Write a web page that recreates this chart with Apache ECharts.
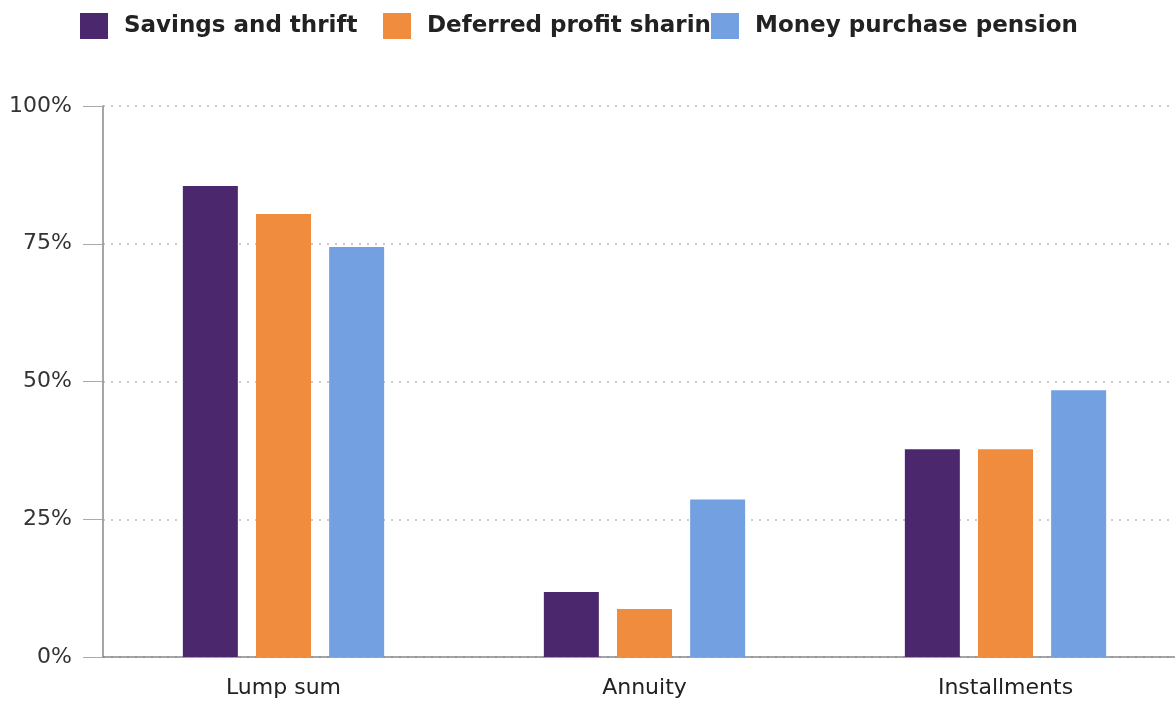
<!DOCTYPE html>
<html>
<head>
<meta charset="utf-8">
<script src="https://cdn.jsdelivr.net/npm/echarts@6/dist/echarts.min.js"></script>
<style>
html,body{margin:0;padding:0;background:#fff;}
#chart{width:1175px;height:704px;}
</style>
</head>
<body>
<div id="chart"></div>
<script>
const categories = ['Lump sum', 'Annuity', 'Installments'];
const seriesNames = ['Savings and thrift', 'Deferred profit sharing', 'Money purchase pension'];
const savingsThrift = [85.5, 11.8, 37.7];
const deferredProfit = [80.4, 8.7, 37.7];
const moneyPurchase = [74.4, 28.6, 48.4];
const yTicks = [0, 25, 50, 75, 100];

const colors = ['#4B286D', '#F08C3E', '#72A0E0'];
const seriesData = [savingsThrift, deferredProfit, moneyPurchase];
const legendLefts = [80, 383, 711];

const chart = echarts.init(document.getElementById('chart'));
chart.setOption({
  animation: false,
  color: colors,
  legend: seriesNames.map((n, i) => ({
    data: [{ name: n, icon: 'rect' }],
    left: legendLefts[i],
    top: 13,
    itemWidth: 28,
    itemHeight: 26,
    itemGap: 0,
    padding: 0,
    itemStyle: { borderWidth: 0 },
    textStyle: { fontFamily: 'DejaVu Sans', fontWeight: 'bold', fontSize: 23, color: '#222', padding: [0, 0, 0, 11] },
    z: 2 + i
  })),
  grid: { left: 103, top: 106, right: -11, bottom: 47, containLabel: false, outerBoundsMode: 'none' },
  xAxis: {
    type: 'category',
    data: categories,
    axisLine: { lineStyle: { color: '#888', width: 1.5 } },
    axisTick: { alignWithLabel: true, length: 15, lineStyle: { color: '#bbb' } },
    axisLabel: { fontFamily: 'DejaVu Sans', fontSize: 22, color: '#222', margin: 20 }
  },
  yAxis: {
    type: 'value',
    min: yTicks[0],
    max: yTicks[yTicks.length - 1],
    interval: 25,
    axisLine: { show: true, lineStyle: { color: '#888', width: 1.5 } },
    axisTick: { show: true, length: 20, lineStyle: { color: '#aaa' } },
    axisLabel: { fontFamily: 'DejaVu Sans', fontSize: 22, color: '#333', margin: 31, formatter: '{value}%' },
    splitLine: { show: true, lineStyle: { color: '#bbb', type: [2, 6], width: 1.5 } }
  },
  series: seriesNames.map((n, i) => ({
    name: n,
    type: 'bar',
    data: seriesData[i],
    barWidth: 55,
    barGap: '33%',
    itemStyle: { color: colors[i] }
  }))
});
</script>
</body>
</html>
